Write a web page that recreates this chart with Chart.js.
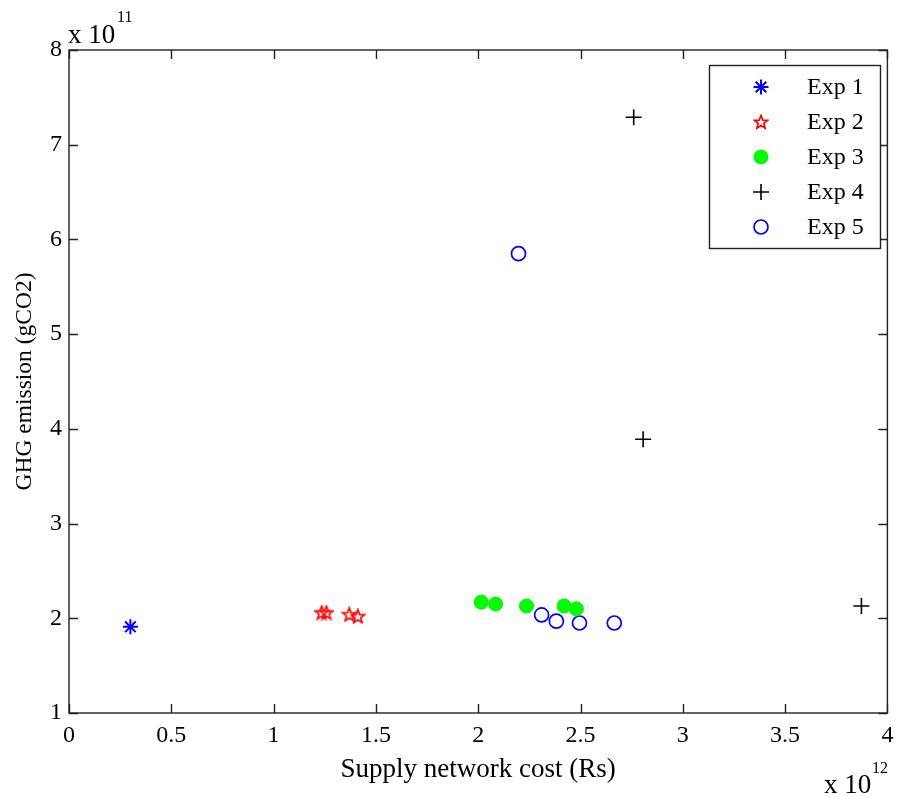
<!DOCTYPE html>
<html><head><meta charset="utf-8">
<script src="https://cdn.jsdelivr.net/npm/chart.js@4/dist/chart.umd.min.js"></script>
<style>html,body{margin:0;padding:0;background:#fff}</style>
</head><body>
<canvas id="c" width="897" height="797" style="width:897px;height:797px;display:block"></canvas>
<script>
// values in units of 1e12 Rs (x) and 1e11 gCO2 (y)
const seriesNames = ["Exp 1", "Exp 2", "Exp 3", "Exp 4", "Exp 5"];
const exp1X = [0.30];
const exp1Y = [1.91];
const exp2X = [1.235, 1.258, 1.37, 1.412];
const exp2Y = [2.06, 2.06, 2.04, 2.02];
const exp3X = [2.015, 2.085, 2.236, 2.42, 2.48];
const exp3Y = [2.17, 2.15, 2.13, 2.13, 2.10];
const exp4X = [2.76, 2.806, 3.873];
const exp4Y = [7.29, 3.89, 2.13];
const exp5X = [2.197, 2.31, 2.382, 2.495, 2.665];
const exp5Y = [5.85, 2.035, 1.97, 1.95, 1.95];
const xTicks = [0, 0.5, 1, 1.5, 2, 2.5, 3, 3.5, 4];
const yTicks = [1, 2, 3, 4, 5, 6, 7, 8];

function pts(xs, ys) { return xs.map((x, i) => ({x: x, y: ys[i]})); }

// pentagram marker
const starCanvas = document.createElement('canvas');
starCanvas.width = 16; starCanvas.height = 16;
(function(){
  const g = starCanvas.getContext('2d');
  g.strokeStyle = '#ff0000'; g.lineWidth = 1.7;
  g.beginPath();
  const cx = 8, cy = 8.5, R = 7, r = 3;
  for (let k = 0; k < 10; k++) {
    const a = -Math.PI/2 + k*Math.PI/5;
    const rad = k % 2 === 0 ? R : r;
    const px = cx + rad*Math.cos(a), py = cy + rad*Math.sin(a);
    if (k === 0) g.moveTo(px, py); else g.lineTo(px, py);
  }
  g.closePath(); g.stroke();
})();

const SERIF = "'Liberation Serif', 'Times New Roman', serif";

const datasets = [
  {label: seriesNames[0], data: pts(exp1X, exp1Y), pointStyle: 'star', radius: 7.5, borderColor: '#0000ff', backgroundColor: '#0000ff', borderWidth: 2},
  {label: seriesNames[1], data: pts(exp2X, exp2Y), pointStyle: starCanvas, radius: 8, borderColor: '#ff0000', backgroundColor: '#ff0000'},
  {label: seriesNames[2], data: pts(exp3X, exp3Y), pointStyle: 'circle', radius: 7, borderColor: '#00ee00', backgroundColor: '#00ff00', borderWidth: 1},
  {label: seriesNames[3], data: pts(exp4X, exp4Y), pointStyle: 'cross', radius: 8, borderColor: '#000000', backgroundColor: '#000000', borderWidth: 1.6},
  {label: seriesNames[4], data: pts(exp5X, exp5Y), pointStyle: 'circle', radius: 7, borderColor: '#0000ff', backgroundColor: 'rgba(0,0,0,0)', borderWidth: 1.7}
];
datasets.forEach(d => { d.pointHoverRadius = d.radius; d.showLine = false; });

const decor = {
  id: 'decor',
  afterDraw(chart) {
    const ctx = chart.ctx;
    const a = chart.chartArea;
    const xs = chart.scales.x, ys = chart.scales.y;
    ctx.save();
    ctx.strokeStyle = '#222';
    ctx.lineWidth = 1.4;
    ctx.strokeRect(a.left, a.top, a.right - a.left, a.bottom - a.top);
    const tl = 9;
    ctx.beginPath();
    xTicks.forEach(v => {
      const px = Math.round(xs.getPixelForValue(v)) + 0.5;
      ctx.moveTo(px, a.bottom); ctx.lineTo(px, a.bottom - tl);
      ctx.moveTo(px, a.top); ctx.lineTo(px, a.top + tl);
    });
    yTicks.forEach(v => {
      const py = Math.round(ys.getPixelForValue(v)) + 0.5;
      ctx.moveTo(a.left, py); ctx.lineTo(a.left + tl, py);
      ctx.moveTo(a.right, py); ctx.lineTo(a.right - tl, py);
    });
    ctx.stroke();

    // exponent labels
    ctx.fillStyle = '#000';
    ctx.textBaseline = 'alphabetic';
    ctx.textAlign = 'left';
    ctx.font = '27px ' + SERIF;
    ctx.fillText('x 10', 68, 43);
    ctx.font = '16px ' + SERIF;
    ctx.fillText('11', 117, 22);
    ctx.font = '27px ' + SERIF;
    ctx.fillText('x 10', 824, 793);
    ctx.font = '16px ' + SERIF;
    ctx.fillText('12', 872, 773);

    // legend box
    const L = {left: 709, top: 65, right: 880, bottom: 248};
    ctx.fillStyle = '#fff';
    ctx.fillRect(L.left, L.top, L.right - L.left, L.bottom - L.top);
    ctx.strokeStyle = '#222';
    ctx.lineWidth = 1.4;
    ctx.strokeRect(L.left + 0.5, L.top + 0.5, L.right - L.left, L.bottom - L.top);
    const rows = [87, 122, 157, 192, 227];
    chart.data.datasets.forEach((d, i) => {
      ctx.save();
      ctx.strokeStyle = d.borderColor;
      ctx.fillStyle = d.backgroundColor;
      ctx.lineWidth = d.borderWidth || 1;
      Chart.helpers.drawPoint(ctx, {pointStyle: d.pointStyle, radius: d.radius, rotation: 0, borderWidth: d.borderWidth || 1}, 761, rows[i]);
      ctx.restore();
    });
    ctx.font = '24px ' + SERIF;
    ctx.textBaseline = 'middle';
    ctx.fillStyle = '#000';
    chart.data.datasets.forEach((d, i) => {
      ctx.fillText(d.label, 807, rows[i] + 1);
    });
    ctx.restore();
  }
};

new Chart(document.getElementById('c'), {
  type: 'scatter',
  data: {datasets: datasets},
  options: {
    responsive: false,
    animation: false,
    events: [],
    layout: {padding: {left: 0, top: 50, right: 7, bottom: 0}},
    plugins: {legend: {display: false}, tooltip: {enabled: false}},
    scales: {
      x: {
        type: 'linear', min: 0, max: 4,
        afterBuildTicks: s => { s.ticks = xTicks.map(v => ({value: v})); },
        afterFit: s => { s.height = 84; s.paddingLeft = 0; s.paddingRight = 0; },
        grid: {display: false, drawTicks: false},
        border: {display: false},
        ticks: {color: '#000', padding: 8, font: {family: SERIF, size: 24}, maxRotation: 0, autoSkip: false,
                callback: v => String(v)},
        title: {display: true, text: 'Supply network cost (Rs)', color: '#000', font: {family: SERIF, size: 27}, padding: {top: 0, bottom: 11}}
      },
      y: {
        type: 'linear', min: 1, max: 8,
        afterBuildTicks: s => { s.ticks = yTicks.map(v => ({value: v})); },
        afterFit: s => { s.width = 69; s.paddingTop = 0; s.paddingBottom = 0; },
        grid: {display: false, drawTicks: false},
        border: {display: false},
        ticks: {color: '#000', padding: 7, font: {family: SERIF, size: 24}, autoSkip: false,
                callback: v => String(v)},
        title: {display: true, text: 'GHG emission (gCO2)', color: '#000', font: {family: SERIF, size: 23.5}, padding: {top: 11, bottom: 0}}
      }
    }
  },
  plugins: [decor]
});
</script>
</body></html>
